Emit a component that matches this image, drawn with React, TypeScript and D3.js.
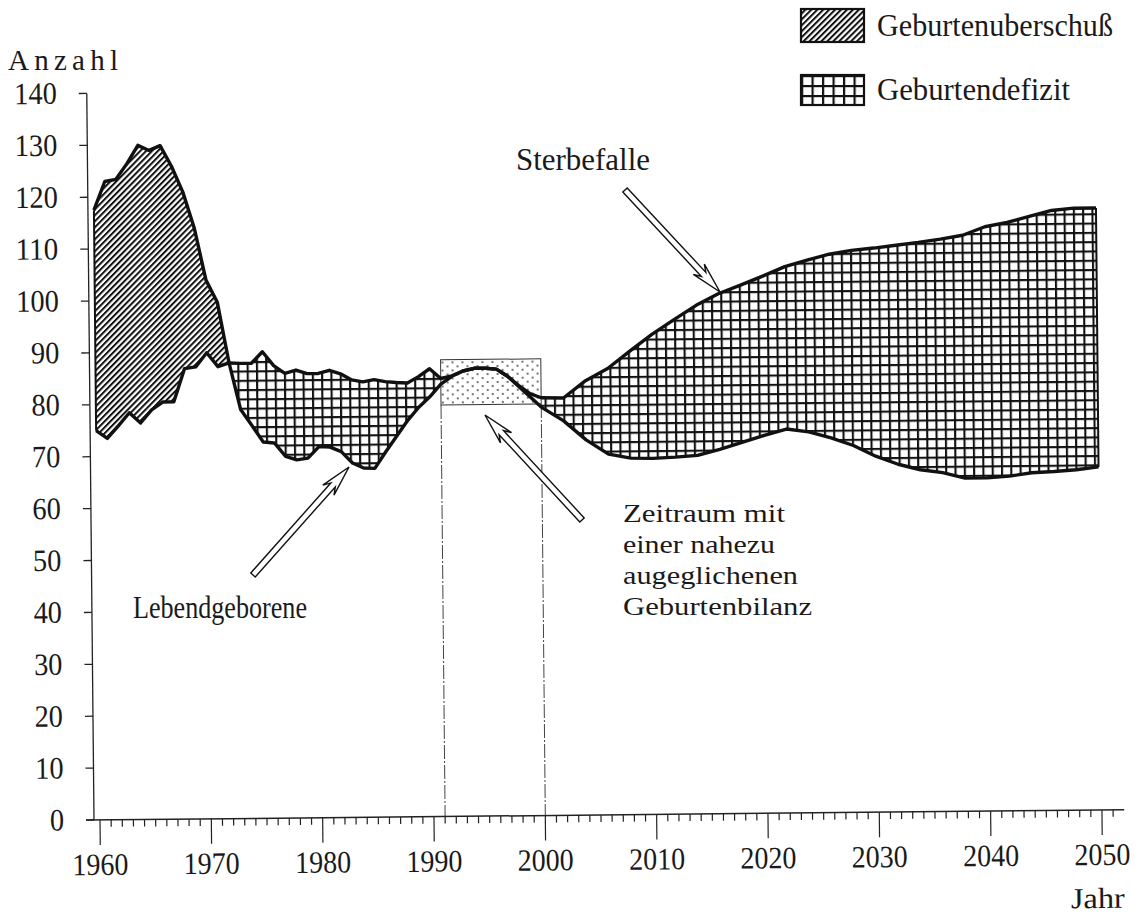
import React from "react";
import * as d3 from "d3";

// ---- data ----
const years = [
  1960, 1961, 1962, 1963, 1964, 1965, 1966, 1967, 1968, 1969,
  1970, 1971, 1972, 1973, 1974, 1975, 1976, 1977, 1978, 1979,
  1980, 1981, 1982, 1983, 1984, 1985, 1986, 1987, 1988, 1989,
  1990, 1991, 1992, 1993, 1994, 1995, 1996, 1997, 1998, 1999,
  2000, 2002, 2004, 2006, 2008, 2010, 2012, 2014, 2016, 2018,
  2020, 2022, 2024, 2026, 2028, 2030, 2032, 2034, 2036, 2038,
  2040, 2042, 2044, 2046, 2048, 2050,
];
// Lebendgeborene
const births = [
  117.5, 123.0, 123.4, 126.4, 129.9, 128.9, 129.8, 125.8, 120.8, 113.8,
  103.8, 99.5, 87.8, 78.8, 75.7, 72.5, 72.3, 69.7, 69.0, 69.3,
  71.5, 71.4, 70.5, 68.3, 67.3, 67.2, 70.4, 73.4, 76.4, 78.9,
  80.9, 83.3, 84.8, 85.8, 86.3, 86.3, 86.1, 84.7, 82.7, 80.7,
  78.7, 76.0, 72.3, 69.5, 68.7, 68.6, 68.8, 69.1, 70.2, 71.5,
  72.8, 74.0, 73.4, 72.2, 70.7, 68.6, 67.0, 65.9, 65.3, 64.2,
  64.2, 64.5, 65.1, 65.3, 65.6, 66.1,
];
// Sterbefälle
const deaths = [
  75.0, 73.5, 75.9, 78.4, 76.4, 78.9, 80.4, 80.4, 86.8, 87.1,
  89.8, 87.1, 87.8, 87.7, 87.7, 89.9, 87.2, 85.7, 86.3, 85.6,
  85.6, 86.2, 85.5, 84.3, 83.9, 84.3, 83.9, 83.7, 83.6, 84.8,
  86.3, 84.4, 84.9, 85.8, 86.3, 86.3, 86.1, 84.7, 82.9, 81.3,
  80.5, 80.4, 83.7, 86.0, 89.3, 92.5, 95.3, 98.0, 100.2, 101.8,
  103.5, 105.3, 106.5, 107.6, 108.3, 108.7, 109.2, 109.7, 110.3, 111.0,
  112.6, 113.4, 114.5, 115.6, 116.0, 116.0,
];
const yTickValues = [0, 10, 20, 30, 40, 50, 60, 70, 80, 90, 100, 110, 120, 130, 140];
const xTickLabels = [1960, 1970, 1980, 1990, 2000, 2010, 2020, 2030, 2040, 2050];
const balanceYears = [1991, 2000];
const balanceRange = [79.3, 88];
const legendLabels = ["Geburtenuberschuß", "Geburtendefizit"];
const noteLines = ["Zeitraum mit", "einer nahezu", "augeglichenen", "Geburtenbilanz"];

const FONT = "'Liberation Serif', 'Times New Roman', serif";

type Row = { yr: number; b: number; d: number };

function Label(props: {
  x: number; y: number; w?: number; anchor?: string; adjust?: string; size?: number; children: any;
}) {
  const { x, y, w, anchor = "start", adjust = "spacingAndGlyphs", size = 31, children } = props;
  return (
    <text
      x={x}
      y={y}
      fontFamily={FONT}
      fontSize={size}
      textAnchor={anchor}
      textLength={w}
      lengthAdjust={w ? adjust : undefined}
      fill="#1a1a1a"
    >
      {children}
    </text>
  );
}

function Arrow({ from, to }: { from: [number, number]; to: [number, number] }) {
  const dx = to[0] - from[0];
  const dy = to[1] - from[1];
  const L = Math.hypot(dx, dy);
  const ang = (Math.atan2(dy, dx) * 180) / Math.PI;
  const pts: [number, number][] = [
    [0, -3], [L - 24, -3], [L - 31, -7.5], [L, 0], [L - 31, 7.5], [L - 24, 3], [0, 3],
  ];
  return (
    <polygon
      transform={`translate(${from[0]},${from[1]}) rotate(${ang})`}
      points={pts.map((p) => p.join(",")).join(" ")}
      fill="#fff"
      stroke="#111"
      strokeWidth={1.4}
      strokeLinejoin="miter"
    />
  );
}

export default function App() {
  const W = 1145;
  const H = 923;
  const x = d3.scaleLinear().domain([1960, 2050]).range([100, 1102]);
  const y = d3.scaleLinear().domain([0, 140]).range([820, 93.4]);
  const data: Row[] = years.map((yr, i) => ({ yr, b: births[i], d: deaths[i] }));

  const belowBirths = d3.area<Row>().x((d) => x(d.yr)).y0(y(0)).y1((d) => y(d.b))(data) || "";
  const belowDeaths = d3.area<Row>().x((d) => x(d.yr)).y0(y(0)).y1((d) => y(d.d))(data) || "";
  const aboveDeaths = d3.area<Row>().x((d) => x(d.yr)).y0((d) => y(d.d)).y1(y(140))(data) || "";
  const aboveBirths = d3.area<Row>().x((d) => x(d.yr)).y0((d) => y(d.b)).y1(y(140))(data) || "";
  const birthLine = d3.line<Row>().x((d) => x(d.yr)).y((d) => y(d.b))(data) || "";
  const deathLine = d3.line<Row>().x((d) => x(d.yr)).y((d) => y(d.d))(data) || "";

  const minorYears = d3.range(1960, 2052);
  const first = data[0];
  const last = data[data.length - 1];

  const bx0 = x(balanceYears[0]);
  const bx1 = x(balanceYears[1]);
  const by0 = y(balanceRange[1]);
  const by1 = y(balanceRange[0]);

  const axisX = 94;

  return (
    <svg
      width={W}
      height={H}
      viewBox={`0 0 ${W} ${H}`}
      style={{ position: "absolute", left: 0, top: 0, background: "#fff" }}
    >
      <defs>
        <pattern id="hatch" width="4.2" height="4.2" patternUnits="userSpaceOnUse" patternTransform="rotate(45)">
          <rect width="4.2" height="4.2" fill="#fff" />
          <line x1="1" y1="0" x2="1" y2="4.2" stroke="#111" strokeWidth="2" />
        </pattern>
        <pattern id="grid" width="9.3" height="9.3" patternUnits="userSpaceOnUse">
          <rect width="9.3" height="9.3" fill="#fff" />
          <line x1="1" y1="0" x2="1" y2="9.3" stroke="#111" strokeWidth="2.2" />
          <line x1="0" y1="1" x2="9.3" y2="1" stroke="#111" strokeWidth="2.2" />
        </pattern>
        <pattern id="gridLegend" width="10.5" height="10" patternUnits="userSpaceOnUse" x="801" y="75">
          <rect width="10.5" height="10" fill="#fff" />
          <line x1="1" y1="0" x2="1" y2="10" stroke="#111" strokeWidth="2.4" />
          <line x1="0" y1="1" x2="10.5" y2="1" stroke="#111" strokeWidth="2.4" />
        </pattern>
        <pattern id="dots" width="10" height="8" patternUnits="userSpaceOnUse">
          <rect width="10" height="8" fill="#fff" />
          <circle cx="2" cy="2" r="0.9" fill="#333" />
          <circle cx="7" cy="6" r="0.9" fill="#333" />
        </pattern>
        <clipPath id="clipBelowBirths">
          <path d={belowBirths} />
        </clipPath>
        <clipPath id="clipBelowDeaths">
          <path d={belowDeaths} />
        </clipPath>
      </defs>

      {/* chart body, slightly tilted like the scanned page */}
      <g transform={`rotate(-0.57, ${axisX}, 820)`}>
        {/* Geburtenüberschuss */}
        <path d={aboveDeaths} fill="url(#hatch)" clipPath="url(#clipBelowBirths)" />
        {/* Geburtendefizit */}
        <path d={aboveBirths} fill="url(#grid)" clipPath="url(#clipBelowDeaths)" />

        {/* balance window */}
        <line x1={bx0} x2={bx0} y1={by1} y2={y(0)} stroke="#444" strokeWidth={1} strokeDasharray="14 2 2 2" />
        <line x1={bx1} x2={bx1} y1={by1} y2={y(0)} stroke="#444" strokeWidth={1} strokeDasharray="14 2 2 2" />
        <rect x={bx0} y={by0} width={bx1 - bx0} height={by1 - by0} fill="url(#dots)" stroke="#333" strokeWidth={1} />

        {/* edges */}
        <line x1={x(first.yr)} x2={x(first.yr)} y1={y(first.b)} y2={y(first.d)} stroke="#111" strokeWidth={2} />
        <line x1={x(last.yr)} x2={x(last.yr)} y1={y(last.b)} y2={y(last.d)} stroke="#111" strokeWidth={2} />

        {/* curves */}
        <path d={deathLine} fill="none" stroke="#111" strokeWidth={3.4} strokeLinejoin="round" />
        <path d={birthLine} fill="none" stroke="#111" strokeWidth={3.4} strokeLinejoin="round" />

        {/* y axis */}
        <line x1={axisX} x2={axisX} y1={y(0)} y2={y(140)} stroke="#222" strokeWidth={1.3} />
        {yTickValues.map((v) => (
          <g key={"yt" + v}>
            <line x1={axisX - 8} x2={axisX} y1={y(v)} y2={y(v)} stroke="#222" strokeWidth={1.3} />
            <Label x={64} y={y(v) + 10} anchor="end" w={String(v).length * 14.2}>
              {v}
            </Label>
          </g>
        ))}

        {/* x axis */}
        <line x1={86} x2={x(2052)} y1={y(0)} y2={y(0)} stroke="#222" strokeWidth={1.5} />
        {minorYears.map((yr) => (
          <line
            key={"mt" + yr}
            x1={x(yr)}
            x2={x(yr)}
            y1={y(0)}
            y2={y(0) + (yr % 10 === 0 ? 25 : 7)}
            stroke="#222"
            strokeWidth={1.2}
          />
        ))}
        {xTickLabels.map((yr) => (
          <Label key={"xl" + yr} x={x(yr)} y={875} anchor="middle" w={56}>
            {yr}
          </Label>
        ))}
        <Label x={1070} y={918} w={54} size={29}>
          Jahr
        </Label>
      </g>

      {/* axis title */}
      <Label x={8} y={70} w={110} adjust="spacing" size={29}>
        Anzahl
      </Label>

      {/* legend */}
      <rect x={801} y={9} width={63} height={33} fill="url(#hatch)" stroke="#111" strokeWidth={2.2} />
      <Label x={877} y={36} w={236}>
        {legendLabels[0]}
      </Label>
      <rect x={801} y={75} width={63} height={30} fill="url(#gridLegend)" stroke="#111" strokeWidth={2.2} />
      <Label x={877} y={100} w={193}>
        {legendLabels[1]}
      </Label>

      {/* annotations */}
      <Label x={516} y={170} w={134}>
        Sterbefalle
      </Label>
      <Arrow from={[625, 190]} to={[720, 292]} />

      <Label x={133} y={618} w={174}>
        Lebendgeborene
      </Label>
      <Arrow from={[253, 575]} to={[349, 467]} />

      {noteLines.map((t, i) => (
        <Label key={t} x={623} y={522 + i * 31} w={[162, 152, 175, 189][i]} size={26}>
          {t}
        </Label>
      ))}
      <Arrow from={[582, 520]} to={[485, 415]} />
    </svg>
  );
}
